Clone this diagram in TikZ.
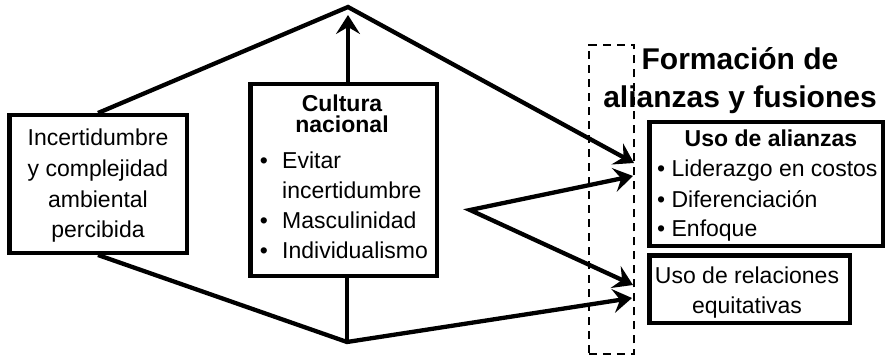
\documentclass[tikz,border=0pt]{standalone}
\usepackage{fontspec}
\setmainfont{Liberation Sans}
\usetikzlibrary{arrows.meta,calc}
\begin{document}
\begin{tikzpicture}[x=1pt,y=-1pt,
  box/.style={draw, line width=4.5pt, inner sep=0pt, rectangle},
  txt/.style={inner sep=0pt, font=\fontsize{23}{30}\selectfont},
  btxt/.style={inner sep=0pt, font=\fontsize{23}{30}\selectfont\bfseries},
  ttl/.style={inner sep=0pt, font=\fontsize{30}{38}\selectfont\bfseries},
  conn/.style={line width=4.3pt},
  tip/.tip={Stealth[length=19pt,width=24pt,inset=7pt]},
  arr/.style={conn, -tip},
  dbox/.style={draw, line width=1.8pt, dash pattern=on 8pt off 6pt, inner sep=0pt}
]
\useasboundingbox (0,0) rectangle (885,358);

% dashed frame
\node[dbox, minimum width=45.2pt, minimum height=309.2pt] (dash) at (611.5,199.5) {};

% boxes
\node[box, minimum width=177.5pt, minimum height=137.5pt] (lbox) at (98,184) {};
\node[box, minimum width=186.5pt, minimum height=191.5pt] (mbox) at (343.5,180) {};
\node[box, minimum width=233.5pt, minimum height=123.5pt] (rbox) at (766,184) {};
\node[box, minimum width=200.5pt, minimum height=67.5pt] (qbox) at (749.5,289) {};

% connector points
\coordinate (apex) at (348,7);
\coordinate (vtip) at (348,15);
\coordinate (bot) at (347,342);
\coordinate (fork) at (470,210);
\coordinate (t1) at (634,163);
\coordinate (t2) at (633,176);
\coordinate (t3) at (633,285);
\coordinate (t4) at (632,298);

% connectors
\draw[arr] (lbox.north) -- (apex) -- (t1);
\draw[arr] (mbox.north -| apex) -- (vtip);
\draw[arr] (lbox.south) -- (bot) -- (t4);
\draw[conn] (mbox.south -| bot) -- (bot);
\draw[conn, tip-tip] (t2) -- (fork) -- (t3);

% left box text
\node[txt, anchor=base] (l1) at (98,146) {Incertidumbre};
\node[txt, anchor=base] (l2) at (98,176) {y complejidad};
\node[txt, anchor=base] (l3) at (98,207) {ambiental};
\node[txt, anchor=base] (l4) at (98,237) {percibida};

% middle box text
\node[btxt, anchor=base] (m1) at (342,112) {Cultura};
\node[btxt, anchor=base] (m2) at (342,133) {nacional};
\node[txt, anchor=base] (mb1) at (264,168) {•};
\node[txt, anchor=base west] (m3) at (282,168) {Evitar};
\node[txt, anchor=base west] (m4) at (282,198) {incertidumbre};
\node[txt, anchor=base] (mb2) at (264,228) {•};
\node[txt, anchor=base west] (m5) at (282,228) {Masculinidad};
\node[txt, anchor=base] (mb3) at (264,258) {•};
\node[txt, anchor=base west] (m6) at (282,258) {Individualismo};

% title
\node[ttl, anchor=base] (h1) at (740,70) {Formación de};
\node[ttl, anchor=base] (h2) at (740,108) {alianzas y fusiones};

% right top box text
\node[btxt, anchor=base] (r0) at (771,147) {Uso de alianzas};
\node[txt, anchor=base west] (r1) at (657,176) {• Liderazgo en costos};
\node[txt, anchor=base west] (r2) at (657,207) {• Diferenciación};
\node[txt, anchor=base west] (r3) at (657,236) {• Enfoque};

% right bottom box text
\node[txt, anchor=base] (q1) at (747,283) {Uso de relaciones};
\node[txt, anchor=base] (q2) at (747,313) {equitativas};
\end{tikzpicture}
\end{document}
